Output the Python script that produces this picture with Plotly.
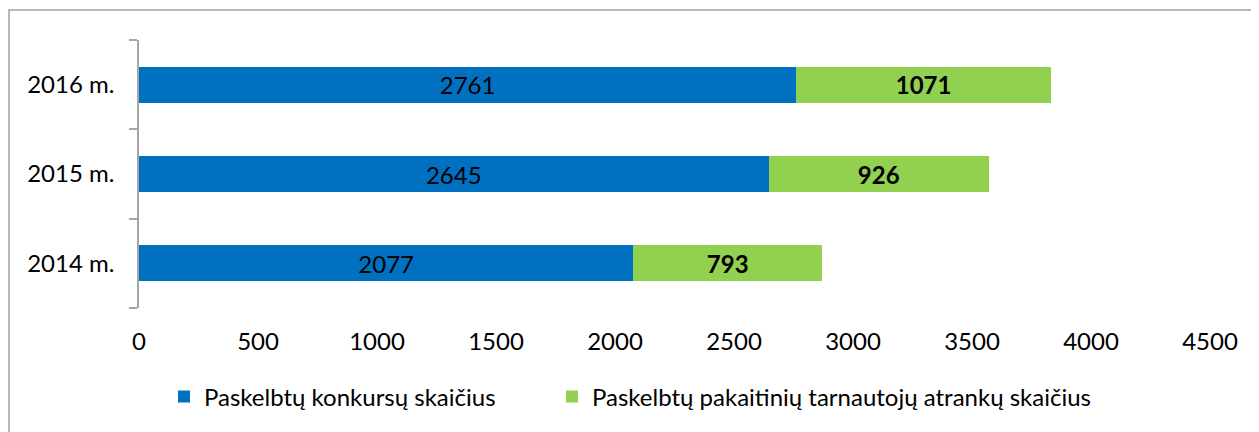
import plotly.graph_objects as go

years = ["2014 m.", "2015 m.", "2016 m."]
konkursai = [2077, 2645, 2761]
pakaitiniai = [793, 926, 1071]
series_names = ["Paskelbtų konkursų skaičius", "Paskelbtų pakaitinių tarnautojų atrankų skaičius"]
x_ticks = [0, 500, 1000, 1500, 2000, 2500, 3000, 3500, 4000, 4500]

FONT = "Lato"
FS = 24
# page body has an 8px default margin; figure laid out in figure coordinates
OFF = 8
W, H = 1259 - OFF, 432 - OFF
L, R, T, B = 139 - OFF, 49, 40 - OFF, 124
PW, PH = W - L - R, H - T - B


def px_x(x):
    return (x - OFF - L) / PW


def px_y(y):
    return (H - B - (y - OFF)) / PH


fig = go.Figure()
fig.add_trace(go.Bar(
    y=years, x=konkursai, orientation="h", name=series_names[0],
    marker=dict(color="#0070C0", line=dict(width=0)),
    text=[str(v) for v in konkursai], textposition="inside", insidetextanchor="middle",
    textfont=dict(family=FONT, size=FS, color="black"), legend="legend", showlegend=True,
))
fig.add_trace(go.Bar(
    y=years, x=pakaitiniai, orientation="h", name=series_names[1],
    marker=dict(color="#92D050", line=dict(width=0)),
    text=["<b>%d</b>" % v for v in pakaitiniai], textposition="inside", insidetextanchor="middle",
    textfont=dict(family=FONT, size=FS, color="black"), legend="legend2", showlegend=True,
))

leg_common = dict(orientation="h", yanchor="middle", y=px_y(397), xanchor="left",
                  font=dict(family=FONT, size=FS, color="black"), itemwidth=30,
                  bgcolor="rgba(0,0,0,0)")

fig.update_layout(
    barmode="stack",
    bargap=0.6,
    showlegend=True,
    width=W, height=H,
    margin=dict(l=L, r=R, t=T, b=B, autoexpand=False),
    paper_bgcolor="white", plot_bgcolor="white",
    font=dict(family=FONT, size=FS, color="black"),
    legend=dict(x=px_x(164), **leg_common),
    legend2=dict(x=px_x(552), **leg_common),
    xaxis=dict(range=[0, 4500], tickvals=x_ticks, showgrid=False, zeroline=False,
               showline=False, ticks="", tickfont=dict(size=FS), ticklabelstandoff=17),
    yaxis=dict(showgrid=False, zeroline=False, showline=True, linecolor="#A6A6A6", linewidth=1.5,
               ticks="outside", ticklen=8, tickcolor="#A6A6A6", tickwidth=1.5,
               tickson="boundaries", ticklabelstandoff=18, tickfont=dict(size=FS)),
    shapes=[dict(type="rect", xref="paper", yref="paper",
                 x0=px_x(9), x1=px_x(1264),
                 y0=px_y(436), y1=px_y(10),
                 line=dict(color="#A0A0A0", width=1.5), fillcolor="rgba(0,0,0,0)", layer="below")],
)

fig.write_html("out.html")
